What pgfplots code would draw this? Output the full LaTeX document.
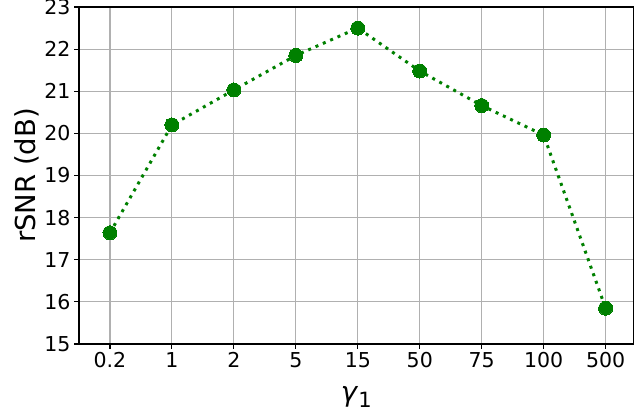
\documentclass[border=0pt]{standalone}
\usepackage{fontspec}
\setmainfont{DejaVu Sans}
\usepackage{pgfplots}
\pgfplotsset{compat=1.18}
\definecolor{mplgreen}{HTML}{008000}
\begin{document}
\begin{tikzpicture}[x=1pt,y=1pt]
\useasboundingbox (0,0) rectangle (634,417);
\begin{axis}[
  at={(79pt,73pt)}, anchor=south west,
  scale only axis, width=554.5pt, height=337pt,
  xmin=-0.5, xmax=8.45, ymin=15, ymax=23,
  xtick={0,1,2,3,4,5,6,7,8},
  xticklabels={0.2,1,2,5,15,50,75,100,500},
  ytick={15,16,17,18,19,20,21,22,23},
  /pgf/number format/assume math mode=true,
  tick label style={font=\fontsize{20.5}{24}\selectfont},
  tick align=outside, major tick length=5pt,
  tick style={black, line width=1.1pt},
  xtick pos=bottom, ytick pos=left,
  grid=major, grid style={color=black!31, line width=1.1pt},
  axis line style={line width=1.1pt},
  ylabel={rSNR (dB)},
  ylabel style={font=\fontsize{27.5}{32}\selectfont, at={(ticklabel cs:0.5)}, yshift=-2pt},
  xlabel={\textit{γ}\raisebox{-0.2em}{\fontsize{21}{24}\selectfont 1}},
  xlabel style={font=\fontsize{27.5}{32}\selectfont, yshift=-12pt},
  clip=false,
]
\addplot[mplgreen, line width=3pt, dash pattern=on 3pt off 5pt,
  mark=*, mark size=7pt, mark options={solid, fill=mplgreen, draw=mplgreen, line width=0pt}]
  coordinates {(0,17.64) (1,20.20) (2,21.03) (3,21.85) (4,22.50) (5,21.48) (6,20.66) (7,19.96) (8,15.85)};
\end{axis}
\end{tikzpicture}
\end{document}
